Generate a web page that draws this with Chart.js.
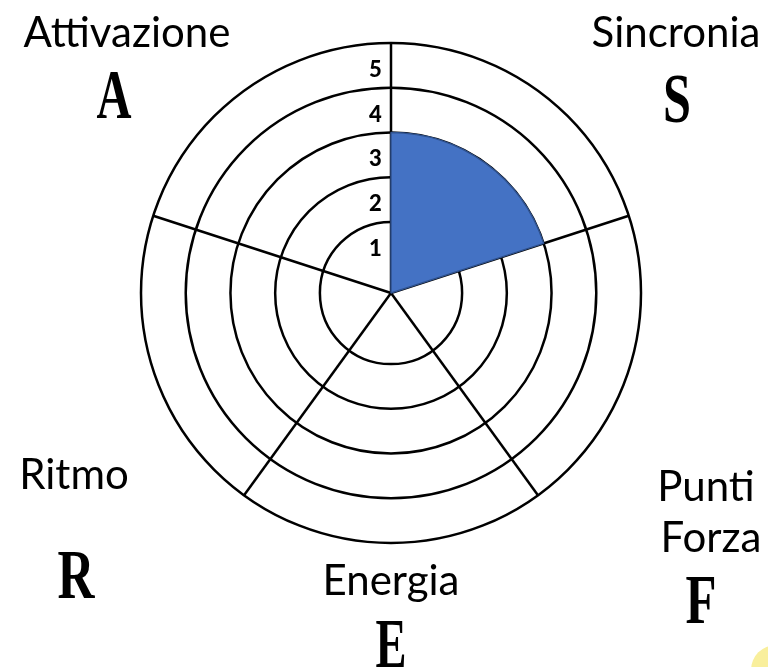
<!DOCTYPE html>
<html>
<head>
<meta charset="utf-8">
<script src="https://cdn.jsdelivr.net/npm/chart.js@4"></script>
<style>
  html, body { margin: 0; padding: 0; background: #fff; overflow: hidden; }
  #wrap { position: relative; width: 768px; height: 667px; }
  #badge { position: absolute; left: 751px; top: 645px; width: 50px; height: 50px; border-radius: 50%; background: #f9ef9c; }
</style>
</head>
<body>
<div id="wrap">
  <canvas id="wheel" width="768" height="667"></canvas>
  <div id="badge"></div>
</div>
<script>
// Segments go clockwise from 12 o'clock
const categories = ['Sincronia', 'Punti Forza', 'Energia', 'Ritmo', 'Attivazione'];
const initials = ['S', 'F', 'E', 'R', 'A'];
const scores = [3, 0, 0, 0, 0];
const ringTicks = [1, 2, 3, 4, 5];
const ringLabels = ['1', '2', '3', '4', '5'];

// slide text placement: [centre x, baseline y] per line of the name
const nameSpots = [
    [[676, 47]],
    [[706, 501], [711, 552]],
    [[391, 595]],
    [[74, 489]],
    [[127, 47]]
];
// [centre x, baseline y, max width] of the big initial
const initialSpots = [
    [677, 122, 28],
    [701, 623, 31],
    [391, 667, 31],
    [76, 598, 37],
    [114, 118, 35]
];

const scaleMin = -0.59; // innermost ring sits away from the centre
const labelShift = -0.6; // ring numbers are written inside each band
const tickSize = 22;

const slideText = {
    id: 'slideText',
    afterDraw(chart) {
        const c = chart.ctx;
        c.save();
        c.fillStyle = '#000';
        c.textAlign = 'center';
        c.textBaseline = 'alphabetic';
        c.font = '42px Lato';
        categories.forEach((name, i) => {
            const spots = nameSpots[i];
            const lines = spots.length > 1 ? name.split(' ') : [name];
            lines.forEach((t, j) => c.fillText(t, spots[j][0], spots[j][1]));
        });
        c.font = 'bold 69px "Liberation Serif"';
        initials.forEach((ch, i) => {
            const [x, y, w] = initialSpots[i];
            c.fillText(ch, x, y, w);
        });
        c.restore();
    }
};

const shown = (on, off) => c => (c.raw > 0 ? on : off);

new Chart(document.getElementById('wheel'), {
    type: 'polarArea',
    data: {
        labels: categories,
        datasets: [{
            data: scores,
            backgroundColor: shown('#4472c4', 'rgba(0,0,0,0)'),
            borderColor: shown('#2f528f', 'rgba(0,0,0,0)'),
            borderWidth: shown(1.5, 0)
        }]
    },
    options: {
        responsive: false,
        animation: false,
        layout: { padding: { left: 130, right: 116, top: 32, bottom: 113 } },
        plugins: {
            legend: { display: false },
            tooltip: { enabled: false }
        },
        scales: {
            r: {
                min: scaleMin,
                max: 5,
                startAngle: 0,
                afterBuildTicks: s => { s.ticks = ringTicks.map(v => ({ value: v })); },
                grid: { circular: true, color: '#000', lineWidth: 2.5 },
                angleLines: { display: true, color: '#000', lineWidth: 2.5 },
                pointLabels: { display: false },
                ticks: {
                    display: true,
                    callback: () => '',
                    showLabelBackdrop: false,
                    backdropPadding: 0,
                    font: { size: tickSize }
                }
            },
            // second radial axis only carries the ring numbers
            marks: {
                type: 'radialLinear',
                axis: 'r',
                min: scaleMin,
                max: 5,
                startAngle: 0,
                afterBuildTicks: s => { s.ticks = ringTicks.map(v => ({ value: v + labelShift })); },
                grid: { display: false },
                angleLines: { display: false },
                pointLabels: { display: false },
                ticks: {
                    display: true,
                    callback: (v, i) => ringLabels[i] + '      ',
                    showLabelBackdrop: false,
                    backdropPadding: 0,
                    color: '#000',
                    font: { family: 'Lato', size: tickSize, weight: '900' }
                }
            }
        }
    },
    plugins: [slideText]
});
</script>
</body>
</html>
